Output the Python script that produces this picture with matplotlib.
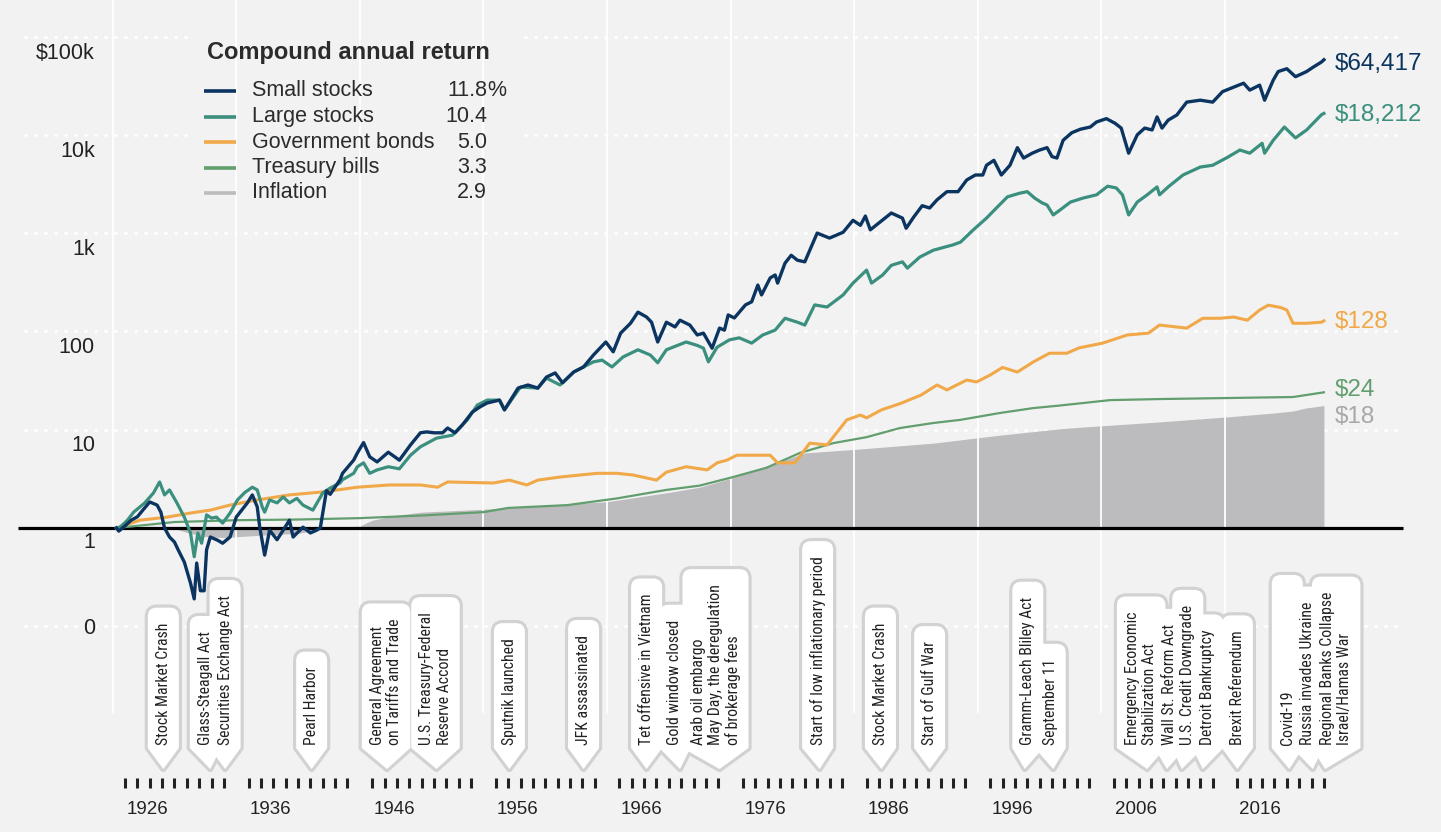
"""
Growth of $1 (1926-2023) by asset class, log scale, with event callouts
"""
import matplotlib
matplotlib.use("Agg")
import matplotlib.pyplot as plt
from matplotlib import font_manager
from matplotlib.path import Path
from matplotlib.patches import PathPatch, Rectangle
from matplotlib.transforms import Affine2D, ScaledTranslation

plt.rcParams["font.family"] = ["Liberation Sans", "DejaVu Sans"]

# ---------------- data ----------------
small_years = [1925.3, 1925.5, 1926.0, 1926.5, 1927.0, 1927.5, 1928.0, 1928.6, 1928.9, 1929.2,
               1929.6, 1930.0, 1930.3, 1930.8, 1931.3, 1931.6, 1931.8, 1932.1, 1932.4, 1932.6,
               1932.9, 1933.5, 1933.9, 1934.5, 1935.0, 1935.9, 1936.3, 1936.7, 1936.9, 1937.3,
               1937.7, 1938.3, 1938.8, 1939.3, 1939.6, 1940.4, 1941.0, 1941.5, 1941.8, 1942.0,
               1942.3, 1942.6, 1943.4, 1943.6, 1944.5, 1944.8, 1945.3, 1945.8, 1946.4, 1947.3,
               1948.2, 1949.1, 1949.9, 1950.4, 1951.0, 1951.7, 1952.1, 1952.7, 1953.3, 1954.1,
               1954.7, 1955.3, 1956.3, 1956.7, 1957.8, 1958.6, 1959.4, 1960.1, 1960.8, 1961.4,
               1962.3, 1963.1, 1963.9, 1964.9, 1965.5, 1966.1, 1966.9, 1967.5, 1968.2, 1968.6,
               1969.1, 1969.8, 1970.5, 1970.9, 1971.7, 1972.3, 1972.8, 1973.5, 1974.1, 1974.5,
               1974.8, 1975.3, 1976.2, 1976.7, 1977.2, 1977.5, 1978.2, 1978.6, 1978.8, 1979.4,
               1979.9, 1980.4, 1981.0, 1982.0, 1983.0, 1984.1, 1984.9, 1985.5, 1985.9, 1986.3,
               1987.1, 1988.0, 1988.9, 1989.2, 1989.8, 1990.5, 1991.1, 1991.7, 1992.5, 1993.4,
               1994.1, 1994.8, 1995.4, 1995.7, 1996.3, 1996.9, 1997.6, 1998.2, 1998.7, 1999.4,
               2000.0, 2000.6, 2001.0, 2001.4, 2001.9, 2002.6, 2003.3, 2004.1, 2004.6, 2005.4,
               2006.1, 2006.6, 2007.2, 2007.9, 2008.5, 2009.1, 2009.5, 2009.9, 2010.4, 2011.1,
               2011.9, 2013.0, 2014.0, 2014.8, 2015.8, 2016.5, 2017.0, 2017.8, 2018.2, 2018.9,
               2019.3, 2020.0, 2020.7, 2021.6, 2022.1, 2022.8, 2023.0]
small_values = [1.0, 0.93, 1.05, 1.2, 1.3, 1.55, 1.84, 1.71, 1.45, 1.0,
                0.81, 0.72, 0.60, 0.45, 0.275, 0.19, 0.44, 0.23, 0.23, 0.60,
                0.81, 0.75, 0.70, 0.81, 1.29, 1.80, 2.17, 1.64, 1.02, 0.53,
                0.95, 0.76, 0.95, 1.2, 0.81, 1.02, 0.89, 0.95, 1.0, 1.42,
                2.4, 2.2, 3.1, 3.6, 4.9, 5.8, 7.4, 5.3, 4.7, 5.9,
                4.9, 7.0, 9.3, 9.5, 9.3, 9.3, 10.4, 9.3, 11.2, 15.1,
                17, 18.7, 20, 15.9, 26.5, 28.5, 26.5, 34.3, 37.8, 30,
                38.6, 43.5, 57.5, 78, 62, 96, 121, 157, 140, 124,
                78, 124, 111, 130, 116, 92, 96, 67.5, 108, 103,
                147, 137, 186, 200, 296, 235, 350, 375, 310, 495,
                595, 530, 510, 1000, 890, 1020, 1350, 1200, 1490, 1080,
                1300, 1600, 1420, 1120, 1450, 1900, 1800, 2180, 2640, 2640,
                3470, 3900, 3900, 4900, 5500, 3900, 4900, 7400, 5800, 6500,
                7000, 7400, 6000, 5800, 8800, 10500, 11400, 12000, 13500, 14600,
                13100, 11700, 6500, 10000, 11700, 11200, 15200, 11700, 14100, 15900,
                21500, 22500, 21500, 27500, 30900, 33500, 28500, 32000, 22500, 36000,
                44000, 47000, 39000, 44000, 48500, 55000, 58000]

large_years = [1925.3, 1925.6, 1926.2, 1926.7, 1927.6, 1928.3, 1928.8, 1929.2, 1929.6, 1930.2,
               1930.8, 1931.3, 1931.6, 1931.9, 1932.2, 1932.6, 1933.0, 1933.4, 1933.9, 1934.5,
               1935.1, 1935.7, 1936.3, 1936.7, 1937.1, 1937.3, 1937.7, 1938.3, 1938.8, 1939.3,
               1939.9, 1940.4, 1941.2, 1942.0, 1942.6, 1943.4, 1943.6, 1944.5, 1944.8, 1945.3,
               1945.8, 1946.4, 1947.3, 1948.2, 1949.1, 1949.9, 1951.2, 1952.5, 1953.7, 1954.5,
               1955.3, 1956.3, 1956.7, 1958.0, 1959.4, 1960.1, 1961.2, 1962.3, 1963.9, 1964.6,
               1965.4, 1966.3, 1967.5, 1968.5, 1969.1, 1969.8, 1971.4, 1972.3, 1972.8, 1973.2,
               1973.9, 1974.9, 1975.7, 1976.7, 1977.6, 1978.6, 1979.4, 1980.4, 1981.0, 1981.8,
               1982.8, 1984.1, 1984.9, 1986.0, 1986.4, 1987.3, 1988.0, 1988.9, 1989.3, 1990.3,
               1991.4, 1993.0, 1993.6, 1994.6, 1995.7, 1996.5, 1997.4, 1998.4, 1999.0, 1999.6,
               2000.2, 2000.6, 2001.1, 2001.6, 2002.5, 2003.5, 2004.6, 2005.5, 2006.2, 2006.7,
               2007.2, 2007.9, 2008.7, 2009.5, 2009.7, 2010.4, 2011.6, 2013.0, 2014.0, 2015.2,
               2016.2, 2017.0, 2018.0, 2018.2, 2018.9, 2019.8, 2020.7, 2021.6, 2022.8, 2023.0]
large_values = [1.0, 1.02, 1.2, 1.45, 1.8, 2.27, 2.94, 2.17, 2.44, 1.8,
                1.29, 0.89, 0.51, 0.89, 0.70, 1.36, 1.26, 1.29, 1.12, 1.42,
                1.93, 2.3, 2.6, 2.44, 1.64, 1.45, 1.93, 1.8, 2.07, 1.8,
                2.0, 1.71, 1.52, 2.27, 2.55, 2.87, 3.1, 3.6, 4.2, 4.6,
                3.6, 3.9, 4.2, 4.0, 5.5, 6.7, 8.2, 8.8, 12.6, 17.8,
                20, 20, 15.9, 27.2, 26.5, 33.5, 28.5, 38.6, 49, 51,
                43.5, 55, 65, 57.5, 48, 65, 78, 72, 67.5, 49,
                69, 82, 86, 76, 92, 103, 136, 124, 116, 186,
                177, 235, 310, 420, 310, 375, 470, 510, 440, 570,
                670, 760, 810, 1070, 1420, 1800, 2340, 2550, 2640, 2270,
                2030, 1930, 1530, 1700, 2070, 2270, 2450, 3000, 2880, 2450,
                1530, 2070, 2450, 2950, 2450, 2950, 3900, 4700, 4900, 5900,
                7000, 6500, 8200, 6500, 8800, 12000, 9300, 11200, 16000, 16500]

bond_years = [1925.3, 1927.2, 1929.4, 1931.3, 1932.9, 1934.5, 1936.7, 1939.3, 1942.0, 1944.8,
              1947.4, 1949.9, 1951.3, 1952.1, 1955.8, 1957.1, 1958.5, 1959.4, 1961.2, 1964.2,
              1965.8, 1967.1, 1969.0, 1969.8, 1971.4, 1973.1, 1973.9, 1974.7, 1975.5, 1976.6,
              1978.2, 1978.8, 1980.2, 1981.4, 1982.8, 1984.4, 1985.5, 1986.0, 1987.2, 1988.8,
              1990.4, 1991.7, 1992.5, 1994.1, 1994.9, 1996.0, 1997.0, 1998.2, 1999.5, 2000.8,
              2002.2, 2003.2, 2005.1, 2007.1, 2008.8, 2009.7, 2011.9, 2013.2, 2014.6, 2015.7,
              2016.8, 2017.8, 2018.5, 2019.5, 2020.0, 2020.5, 2021.6, 2022.8, 2023.0]
bond_values = [1.0, 1.2, 1.29, 1.42, 1.52, 1.71, 1.93, 2.17, 2.33, 2.6,
               2.74, 2.74, 2.6, 2.94, 2.87, 3.07, 2.74, 3.07, 3.3, 3.6,
               3.6, 3.46, 3.07, 3.7, 4.2, 3.9, 4.6, 4.9, 5.5, 5.5,
               5.5, 4.6, 4.6, 7.3, 7.0, 12.6, 14.1, 13.2, 15.9, 18.6,
               22.5, 28.5, 25.4, 32, 30.6, 36, 43, 38.6, 49, 60,
               60, 68, 76, 92, 96, 116, 108, 136, 136, 140,
               130, 165, 185, 175, 165, 121, 121, 124, 128]

bill_years = [1925.3, 1930.0, 1935.0, 1940.0, 1945.0, 1950.0, 1955.0, 1957.0, 1961.8, 1965.8,
              1969.8, 1972.5, 1975.2, 1977.9, 1980.6, 1983.3, 1986.0, 1988.7, 1991.4, 1993.6,
              1996.8, 1999.5, 2001.6, 2005.7, 2009.7, 2015.2, 2020.5, 2023.0]
bill_values = [1.0, 1.15, 1.2, 1.22, 1.26, 1.34, 1.45, 1.6, 1.71, 2.0,
               2.44, 2.7, 3.3, 4.1, 5.8, 7.3, 8.4, 10.4, 11.7, 12.6,
               14.8, 16.6, 17.6, 20.0, 20.5, 21.0, 21.5, 24]

infl_years = [1925.3, 1929.9, 1931.0, 1932.5, 1934.0, 1936.0, 1938.0, 1940.0, 1941.8, 1943.0,
              1945.0, 1946.0, 1948.0, 1950.0, 1955.0, 1960.0, 1965.0, 1970.0, 1972.5, 1975.0,
              1979.3, 1981.0, 1985.0, 1991.4, 1996.8, 2001.6, 2003.3, 2009.7, 2015.2, 2019.0,
              2020.5, 2021.5, 2023.0]
infl_values = [1.0, 1.0, 0.9, 0.82, 0.8, 0.83, 0.86, 0.88, 0.97, 1.0,
               1.05, 1.2, 1.35, 1.45, 1.55, 1.7, 1.85, 2.3, 2.6, 3.2,
               4.9, 5.8, 6.3, 7.3, 8.8, 10.2, 10.6, 12.0, 13.5, 14.8,
               15.5, 16.6, 17.6]

legend_names = ["Small stocks", "Large stocks", "Government bonds", "Treasury bills", "Inflation"]
legend_returns = [11.8, 10.4, 5.0, 3.3, 2.9]
end_values = [64417, 18212, 128, 24, 18]

axis_values = [1e5, 1e4, 1e3, 100, 10, 1, 0.1]
axis_labels = ["$100k", "10k", "1k", "100", "10", "1", "0"]
tick_years = [y for y in range(1926, 2024) if y % 10 != 5]
label_years = list(range(1926, 2017, 10))
grid_years = list(range(1925, 2016, 10))

event_years = [1929.1, 1932.9, 1934.1, 1941.1, 1947.2, 1951.2, 1957.1, 1963.1, 1968.2, 1970.9,
               1974.1, 1982.2, 1987.2, 1991.1, 1998.8, 2001.1, 2008.7, 2010.3, 2011.5, 2013.2,
               2016.0, 2020.2, 2022.1, 2023.1]
event_texts = ["Stock Market Crash", "Glass-Steagall Act", "Securities Exchange Act", "Pearl Harbor",
               "General Agreement\non Tariffs and Trade", "U.S. Treasury-Federal\nReserve Accord",
               "Sputnik launched", "JFK assassinated", "Tet offensive in Vietnam", "Gold window closed",
               "Arab oil embargo\nMay Day, the deregulation\nof brokerage fees",
               "Start of low inflationary period", "Stock Market Crash", "Start of Gulf War",
               "Gramm-Leach Bliley Act", "September 11", "Emergency Economic\nStabilization Act",
               "Wall St. Reform Act", "U.S. Credit Downgrade", "Detroit Bankruptcy",
               "Brexit Referendum", "Covid-19", "Russia invades Ukraine",
               "Regional Banks Collapse\nIsrael/Hamas War"]

# ---------------- layout / style ----------------
W, H = 1441, 832
BG = "#f2f2f2"
X_1926, PX_YEAR = 125, 12.36      # pixel position of 1926, pixels per year
Y_ONE, PX_DECADE = 528, 98.3      # pixel row of $1, pixels per decade
# horizontal shift of each callout's text relative to its pointer (pixels)
event_dx = [0, -5, 0, 0, -1, -1, 0, 0, 0, -5, -4, -2, -1, 0, 3, -3, -6, 3, 6, 5, 0, -2, -5, 11]
# forced tag top (pixel row) where a tag is taller than its text
event_top = {21: 575}

colors = ["#0b3560", "#3a8f7e", "#f0a848", "#629e6e", "#bcbcbe"]
label_colors = ["#0b3560", "#3a8f7e", "#f0a848", "#629e6e", "#a8a8a8"]


def pick_tag_font():
    entries = font_manager.fontManager.ttflist
    names = {f.name for f in entries}
    if "Liberation Sans Narrow" in names:
        return "Liberation Sans Narrow", "normal", 12
    for nm in ["Roboto Condensed", "Open Sans Condensed", "Noto Sans Condensed", "DejaVu Sans Condensed"]:
        if nm in names:
            return nm, "normal", 11.3
    for nm in ["Noto Sans", "Open Sans", "Roboto"]:
        if any(f.name == nm and "condensed" in str(f.stretch) for f in entries):
            return nm, "condensed", 11.3
    return "DejaVu Sans", "condensed", 10.5


TAG_FONT, TAG_STRETCH, TAG_SIZE = pick_tag_font()

fig = plt.figure(figsize=(W / 100, H / 100), dpi=100, facecolor=BG)
ax = fig.add_axes([0, 0, 1, 1])
ax.set_axis_off()
ax.set_yscale("log")
x0 = 1926 - X_1926 / PX_YEAR
ax.set_xlim(x0, x0 + W / PX_YEAR)
ax.set_ylim(10 ** ((Y_ONE - H) / PX_DECADE), 10 ** (Y_ONE / PX_DECADE))

# pixel coordinates with y going down
PX = Affine2D().scale(1, -1).translate(0, H)
yax = ax.get_yaxis_transform()
xax = ax.get_xaxis_transform()


def down(px):
    return ScaledTranslation(0, -px / 100, fig.dpi_scale_trans)


# grid
grid_vals = [v for v in axis_values if v != 1]
ax.hlines(grid_vals, 25 / W, 1403 / W, transform=yax, colors="white", lw=2,
          linestyles=[(0, (0.4, 3.2))], capstyle="round", zorder=1)
ax.add_patch(Rectangle((188, 18), 335, 195, transform=PX, facecolor=BG, edgecolor="none", zorder=1.5))
ax.vlines(grid_years, (H - 713) / H, 1, transform=xax, colors="white", lw=1.3, zorder=2)

# series
ax.fill_between(infl_years, infl_values, 1, color=colors[4], lw=0, zorder=1.8)
ax.hlines(1, 18 / W, 1403 / W, transform=yax, colors="black", lw=2.3, zorder=2.5)
ax.plot(bill_years, bill_values, color=colors[3], lw=1.6, zorder=3)
ax.plot(bond_years, bond_values, color=colors[2], lw=2.2, zorder=3.1)
ax.plot(large_years, large_values, color=colors[1], lw=2.3, zorder=3.2)
ax.plot(small_years, small_values, color=colors[0], lw=2.4, zorder=3.3)

# y labels
label_drop = [17, 17, 16, 16, 16, 15, 2]
for v, lab, d in zip(axis_values, axis_labels, label_drop):
    ax.text(95 / W, v, lab, transform=yax + down(d), ha="right", va="center",
            fontsize=15.5, color="#222222")

# end labels
last_vals = [small_values[-1], large_values[-1], bond_values[-1], bill_values[-1], infl_values[-1]]
end_drop = [4, 2, 1, -2, 11]
for v, ev, c, d in zip(last_vals, end_values, label_colors, end_drop):
    ax.text(1335 / W, v, f"${ev:,}", transform=yax + down(d), ha="left", va="center",
            fontsize=17.5, color=c)

# legend
ax.text(207, 52, "Compound annual return", transform=PX, ha="left", va="center",
        fontsize=17, fontweight="bold", color="#2b2b2b")
for i, (name, ret, c) in enumerate(zip(legend_names, legend_returns, colors)):
    yy = 91 + i * 25.5
    ax.plot([204, 236], [yy, yy], transform=PX, color=c, lw=2.6, solid_capstyle="butt")
    ax.text(252, yy, name, transform=PX, ha="left", va="center", fontsize=15.5, color="#2b2b2b")
    ax.text(487, yy, f"{ret:.1f}", transform=PX, ha="right", va="center", fontsize=15.5, color="#2b2b2b")
    if i == 0:
        ax.text(487, yy, "%", transform=PX, ha="left", va="center", fontsize=15.5, color="#2b2b2b")

# year ticks and labels
ax.vlines(tick_years, 1 - 788 / H, 1 - 778 / H, transform=xax, colors="#222222", lw=2.2)
for y in label_years:
    ax.text(y + 0.1, 1 - 810 / H, str(y), transform=xax, ha="left", va="center",
            fontsize=13.5, color="#222222")

# event callouts: rotated text in white tags with a pointer
TEXT_BASE, SIDE_BOTTOM, TIP_Y, LINE_GAP = 745, 748, 769, 17.5
renderer = fig.canvas.get_renderer()
shapes = []
for k, (yr, text, dx) in enumerate(zip(event_years, event_texts, event_dx)):
    tip = ax.transData.transform((yr, 1))[0]
    lines = text.split("\n")
    n = len(lines)
    cx = tip + dx
    longest = 0
    for i, line in enumerate(lines):
        lx = cx + (i - (n - 1) / 2) * LINE_GAP
        t = ax.text(lx, TEXT_BASE, line, transform=PX, rotation=90, rotation_mode="anchor",
                    ha="left", va="center", fontsize=TAG_SIZE, family=TAG_FONT,
                    fontstretch=TAG_STRETCH, color="#222222", zorder=7)
        longest = max(longest, t.get_window_extent(renderer).height)
    half = (15 + LINE_GAP * (n - 1)) / 2 + 8
    left, right = cx - half, cx + half
    top = event_top.get(k, TEXT_BASE - longest - 15)
    r = 9
    verts = [(left, SIDE_BOTTOM), (left, top + r), (left, top), (left + r, top),
             (right - r, top), (right, top), (right, top + r), (right, SIDE_BOTTOM),
             (tip, TIP_Y), (left, SIDE_BOTTOM)]
    codes = [Path.MOVETO, Path.LINETO, Path.CURVE3, Path.CURVE3, Path.LINETO,
             Path.CURVE3, Path.CURVE3, Path.LINETO, Path.LINETO, Path.CLOSEPOLY]
    shapes.append(Path(verts, codes))

for p in shapes:
    ax.add_patch(PathPatch(p, transform=PX, facecolor="none", edgecolor="#d2d2d2", lw=4.5,
                           joinstyle="round", zorder=5))
for p in shapes:
    ax.add_patch(PathPatch(p, transform=PX, facecolor="white", edgecolor="none", zorder=6))

fig.savefig("out.png", dpi=100, facecolor=BG)
plt.close(fig)
